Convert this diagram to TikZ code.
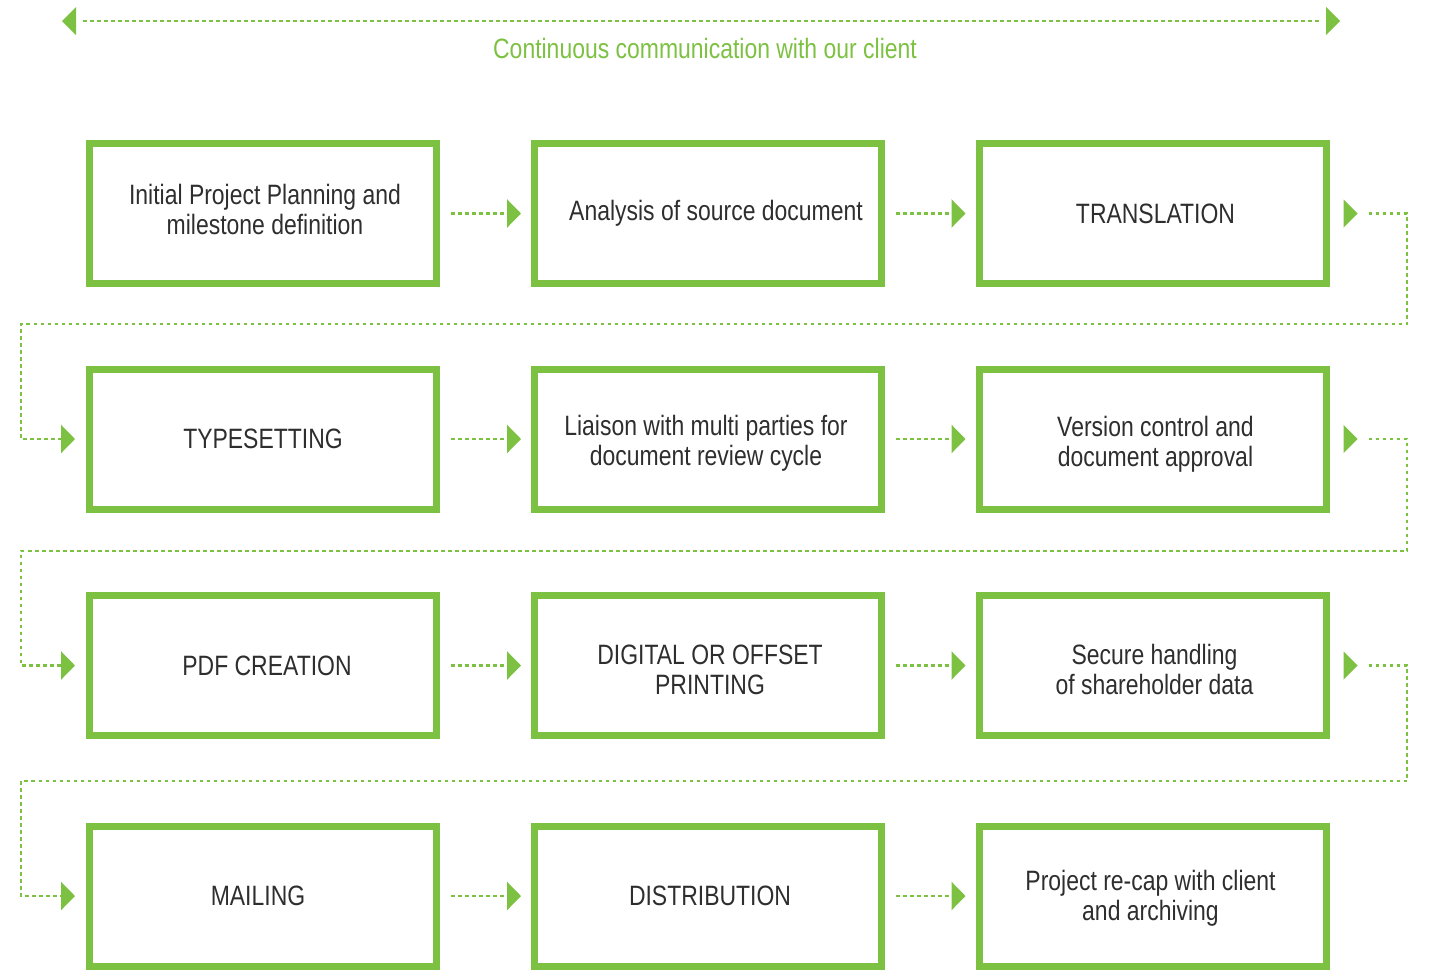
\documentclass[tikz,border=0pt]{standalone}
\usepackage{fontspec}
\setmainfont{Liberation Sans}[FakeStretch=0.82]
\usetikzlibrary{arrows.meta,calc}
\definecolor{grn}{HTML}{7DC142}
\definecolor{txt}{HTML}{2E2E2E}
\begin{document}
\begin{tikzpicture}[x=1pt,y=-1pt,
  stepbox/.style={draw=grn,line width=7pt,minimum width=347pt,minimum height=140pt,outer sep=3.5pt,inner sep=0pt},
  boxtext/.style={align=center,text=txt,font=\fontsize{28}{30}\selectfont,inner sep=0pt},
  dotline/.style={grn,line width=2.6pt,dash pattern=on 3.5pt off 3.5pt},
  tip/.style={-{Triangle[length=14pt,width=28pt]}},
  flow/.style={dotline,tip,shorten <=11pt,shorten >=10pt}]
\useasboundingbox (0,0) rectangle (1429,978);
% top arrow
\coordinate (tl) at (62,21);
\coordinate (tr) at (1340,21);
\fill[grn] (tl) -- ++(14,-14) -- ++(0,28) -- cycle;
\fill[grn] (tr) -- ++(-14,-14) -- ++(0,28) -- cycle;
\draw[dotline,shorten <=21pt,shorten >=21pt] (tl) -- (tr);
\node[text=grn,font=\fontsize{28}{30}\selectfont] (top) at (705,48) {Continuous communication with our client};
% boxes
\node[stepbox] (b1) at (263,213.5) {};
\node[stepbox] (b2) at (708,213.5) {};
\node[stepbox] (b3) at (1152.5,213.5) {};
\node[stepbox] (b4) at (263,439) {};
\node[stepbox] (b5) at (708,439) {};
\node[stepbox] (b6) at (1152.5,439) {};
\node[stepbox] (b7) at (263,665.5) {};
\node[stepbox] (b8) at (708,665.5) {};
\node[stepbox] (b9) at (1152.5,665.5) {};
\node[stepbox] (b10) at (263,896) {};
\node[stepbox] (b11) at (708,896) {};
\node[stepbox] (b12) at (1152.5,896) {};
% texts
\node[boxtext] (t1) at ($(b1)+(2,-4)$) {Initial Project Planning and\\milestone definition};
\node[boxtext] (t2) at ($(b2)+(8,0)$) {Analysis of source document};
\node[boxtext] (t3) at ($(b3)+(3,0)$) {TRANSLATION};
\node[boxtext] (t4) at ($(b4)+(0,0)$) {TYPESETTING};
\node[boxtext] (t5) at ($(b5)+(-2,4)$) {Liaison with multi parties for\\document review cycle};
\node[boxtext] (t6) at ($(b6)+(3,5)$) {Version control and\\document approval};
\node[boxtext] (t7) at ($(b7)+(4,0)$) {PDF CREATION};
\node[boxtext] (t8) at ($(b8)+(2,4)$) {DIGITAL OR OFFSET\\PRINTING};
\node[boxtext] (t9) at ($(b9)+(2,4)$) {Secure handling\\of shareholder data};
\node[boxtext] (t10) at ($(b10)+(-5,0)$) {MAILING};
\node[boxtext] (t11) at ($(b11)+(2,0)$) {DISTRIBUTION};
\node[boxtext] (t12) at ($(b12)+(-2,2)$) {Project re-cap with client\\and archiving};
% horizontal connectors
\foreach \a/\b in {b1/b2,b2/b3,b4/b5,b5/b6,b7/b8,b8/b9,b10/b11,b11/b12}
  \draw[flow] (\a.east) -- (\b.west);
% wrap connectors
\foreach \a/\b/\yy in {b3/b4/324,b6/b7/551,b9/b10/781}{
  \fill[grn] ($(\a.east)+(14,-14)$) -- ($(\a.east)+(28,0)$) -- ($(\a.east)+(14,14)$) -- cycle;
  \draw[dotline,tip,shorten >=11pt] ($(\a.east)+(39,0)$) -| (1407,\yy) -| (21,0 |- \b.west) -- (\b.west);
}
\end{tikzpicture}
\end{document}
